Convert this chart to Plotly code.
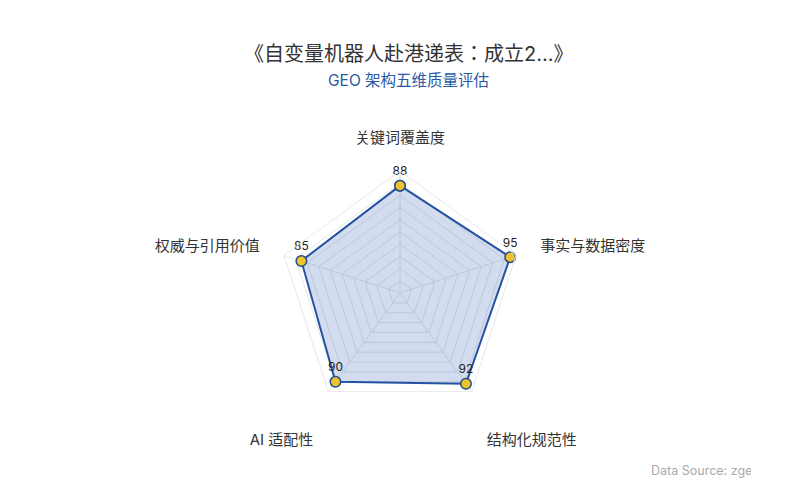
import plotly.graph_objects as go

categories = ["关键词覆盖度", "事实与数据密度", "结构化规范性", "AI 适配性", "权威与引用价值"]
scores = [88, 95, 92, 90, 85]

title_text = "《自变量机器人赴港递表：成立2...》"
subtitle_text = "GEO 架构五维质量评估"
source_text = "Data Source: zgeo.cn"

font_family = "Inter, Noto Sans CJK JP, sans-serif"

# bottom labels sit a bit lower in the original, push them down one line
bottom = {"结构化规范性", "AI 适配性"}
theta_labels = ["<br>" + c if c in bottom else c for c in categories]

# close the polygon
r_vals = scores + scores[:1]
theta_vals = theta_labels + theta_labels[:1]
text_vals = [str(s) for s in scores] + [""]

fig = go.Figure()
fig.add_trace(go.Scatterpolar(
    r=r_vals,
    theta=theta_vals,
    mode="lines+markers+text",
    text=text_vals,
    textposition="top center",
    textfont=dict(size=12, color="#222"),
    fill="toself",
    fillcolor="rgba(30,80,170,0.2)",
    line=dict(color="#2352a3", width=2),
    marker=dict(size=10.5, color="#f2c12e", line=dict(color="#1f4e8f", width=1.5)),
    hoverinfo="skip",
    showlegend=False,
))

fig.update_layout(
    width=800,
    height=500,
    margin=dict(l=0, r=0, t=0, b=0),
    paper_bgcolor="white",
    font=dict(family=font_family, color="#333"),
    polar=dict(
        domain=dict(x=[0.3375, 0.6425], y=[0.186, 0.674]),
        bgcolor="white",
        gridshape="linear",
        radialaxis=dict(
            range=[0, 100],
            dtick=10,
            showticklabels=False,
            ticks="",
            showline=False,
            gridcolor="#e4e6ea",
        ),
        angularaxis=dict(
            rotation=90,
            direction="clockwise",
            ticks="outside",
            ticklen=22,
            tickcolor="rgba(0,0,0,0)",
            tickfont=dict(size=15, color="#333"),
            gridcolor="#e4e6ea",
            linecolor="#e8e8e8",
        ),
    ),
    annotations=[
        dict(text=title_text, xref="paper", yref="paper", x=0.5, y=0.908,
             xanchor="center", yanchor="middle", showarrow=False,
             font=dict(size=20, color="#333")),
        dict(text=subtitle_text, xref="paper", yref="paper", x=0.5, y=0.856,
             xanchor="center", yanchor="middle", showarrow=False,
             font=dict(size=15.5, color="#2a5aa6")),
        dict(text=source_text, xref="paper", yref="paper", x=0.801, y=0.076,
             xanchor="left", yanchor="middle", showarrow=False, width=100,
             align="left", font=dict(size=12.5, color="#aaa")),
    ],
)

fig.write_html("out.html")
